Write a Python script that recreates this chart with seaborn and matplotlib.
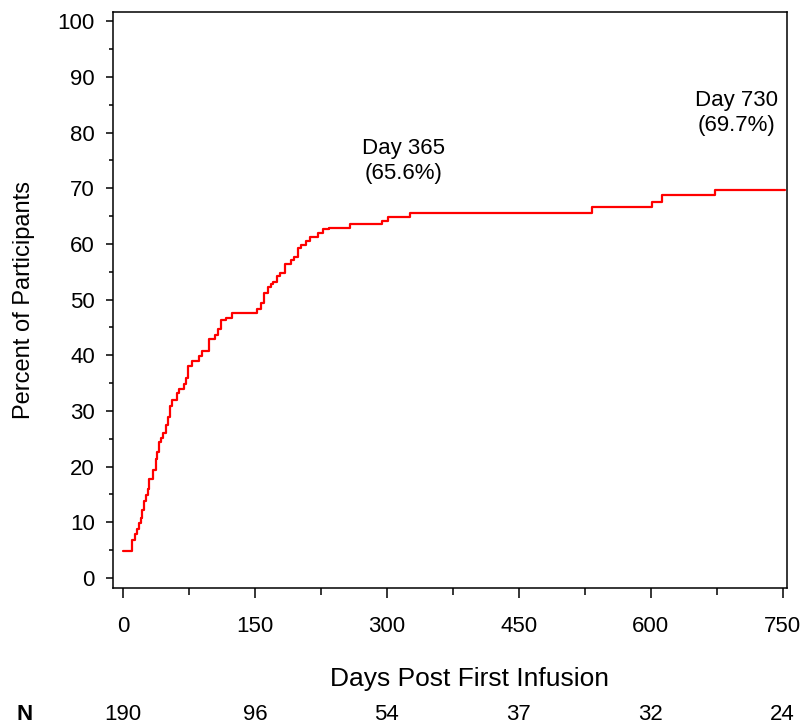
import numpy as np
import pandas as pd
import matplotlib
matplotlib.use("Agg")
import matplotlib.pyplot as plt
import matplotlib.transforms as mtransforms
from matplotlib.ticker import MultipleLocator
import seaborn as sns

# Cumulative incidence (step function)
days = [0, 10.5, 13.5, 15.5, 18, 20, 22, 24, 26.5, 28.5, 30, 34, 37, 39, 41, 43,
        45.5, 49, 51.5, 54, 56, 61.5, 64, 69.5, 72, 74, 79, 86, 90, 98, 105, 108,
        112, 117, 124, 152.5, 157, 160.5, 165, 168, 171, 175, 178, 184.5, 190.5,
        195, 199, 202, 208, 212.5, 222, 227, 234, 258, 295, 301.5, 326, 533.5,
        601, 613, 672.5, 752.5]
pct = [4.9, 6.9, 7.9, 8.8, 9.8, 10.8, 12.2, 13.9, 14.9, 15.9, 17.7, 19.4, 21.3,
       22.7, 24.5, 25.1, 26.1, 27.5, 28.9, 30.9, 32.0, 33.2, 33.9, 34.9, 35.9,
       38.1, 38.9, 39.9, 40.8, 43.0, 43.6, 44.7, 46.3, 46.7, 47.6, 48.4, 49.3,
       51.1, 52.2, 52.8, 53.2, 54.2, 54.8, 56.4, 57.2, 57.7, 59.2, 59.8, 60.6,
       61.2, 62.0, 62.6, 62.9, 63.5, 64.1, 64.9, 65.6, 66.6, 67.6, 68.7, 69.7,
       69.7]

n_days = [0, 150, 300, 450, 600, 750]
n_at_risk = [190, 96, 54, 37, 32, 24]

labels = [(319, "Day 365\n(65.6%)"), (698, "Day 730\n(69.7%)")]
label_y = [74.9, 83.5]

df = pd.DataFrame({"day": days, "pct": pct})

sns.set_style("ticks")
plt.rcParams["font.family"] = ["Liberation Sans", "DejaVu Sans"]
plt.rcParams["text.color"] = "black"
plt.rcParams["axes.labelcolor"] = "black"
plt.rcParams["xtick.color"] = "black"
plt.rcParams["ytick.color"] = "black"

fig = plt.figure(figsize=(8.06, 7.25), dpi=100)
ax = fig.add_axes([0.140, 0.189, 0.836, 0.794])

sns.lineplot(data=df, x="day", y="pct", ax=ax, color="#ff0000", linewidth=1.6,
             drawstyle="steps-post", sort=False, estimator=None)

for (x, txt), y in zip(labels, label_y):
    ax.text(x, y, txt, ha="center", va="center", fontsize=16, linespacing=1.2)

ax.set_xlim(-11.5, 754.5)
ax.set_ylim(-1.8, 101.6)
ax.xaxis.set_major_locator(MultipleLocator(150))
ax.xaxis.set_minor_locator(MultipleLocator(75))
ax.yaxis.set_major_locator(MultipleLocator(10))
ax.yaxis.set_minor_locator(MultipleLocator(5))

for sp in ax.spines.values():
    sp.set_visible(True)
    sp.set_linewidth(1.1)
    sp.set_color("black")

ax.tick_params(axis="x", which="major", length=7, width=1.1, pad=13, labelsize=16)
ax.tick_params(axis="x", which="minor", length=5, width=1.1)
ax.tick_params(axis="y", which="major", length=5, width=1.1, pad=8, labelsize=16)
ax.tick_params(axis="y", which="minor", length=3, width=1.1)

ax.set_xlabel("Days Post First Infusion", fontsize=19, labelpad=22)
ax.xaxis.label.set_x(0.529)
ax.set_ylabel("Percent of Participants", fontsize=17, labelpad=16)

# number at risk row
trans = mtransforms.blended_transform_factory(ax.transData, fig.transFigure)
for d, n in zip(n_days, n_at_risk):
    ax.text(d, 0.014, str(n), transform=trans, ha="center", va="center",
            fontsize=16, clip_on=False)
fig.text(25 / 806, 0.014, "N", ha="center", va="center", fontsize=16,
         fontweight="bold")

fig.savefig("out.png", dpi=100)
